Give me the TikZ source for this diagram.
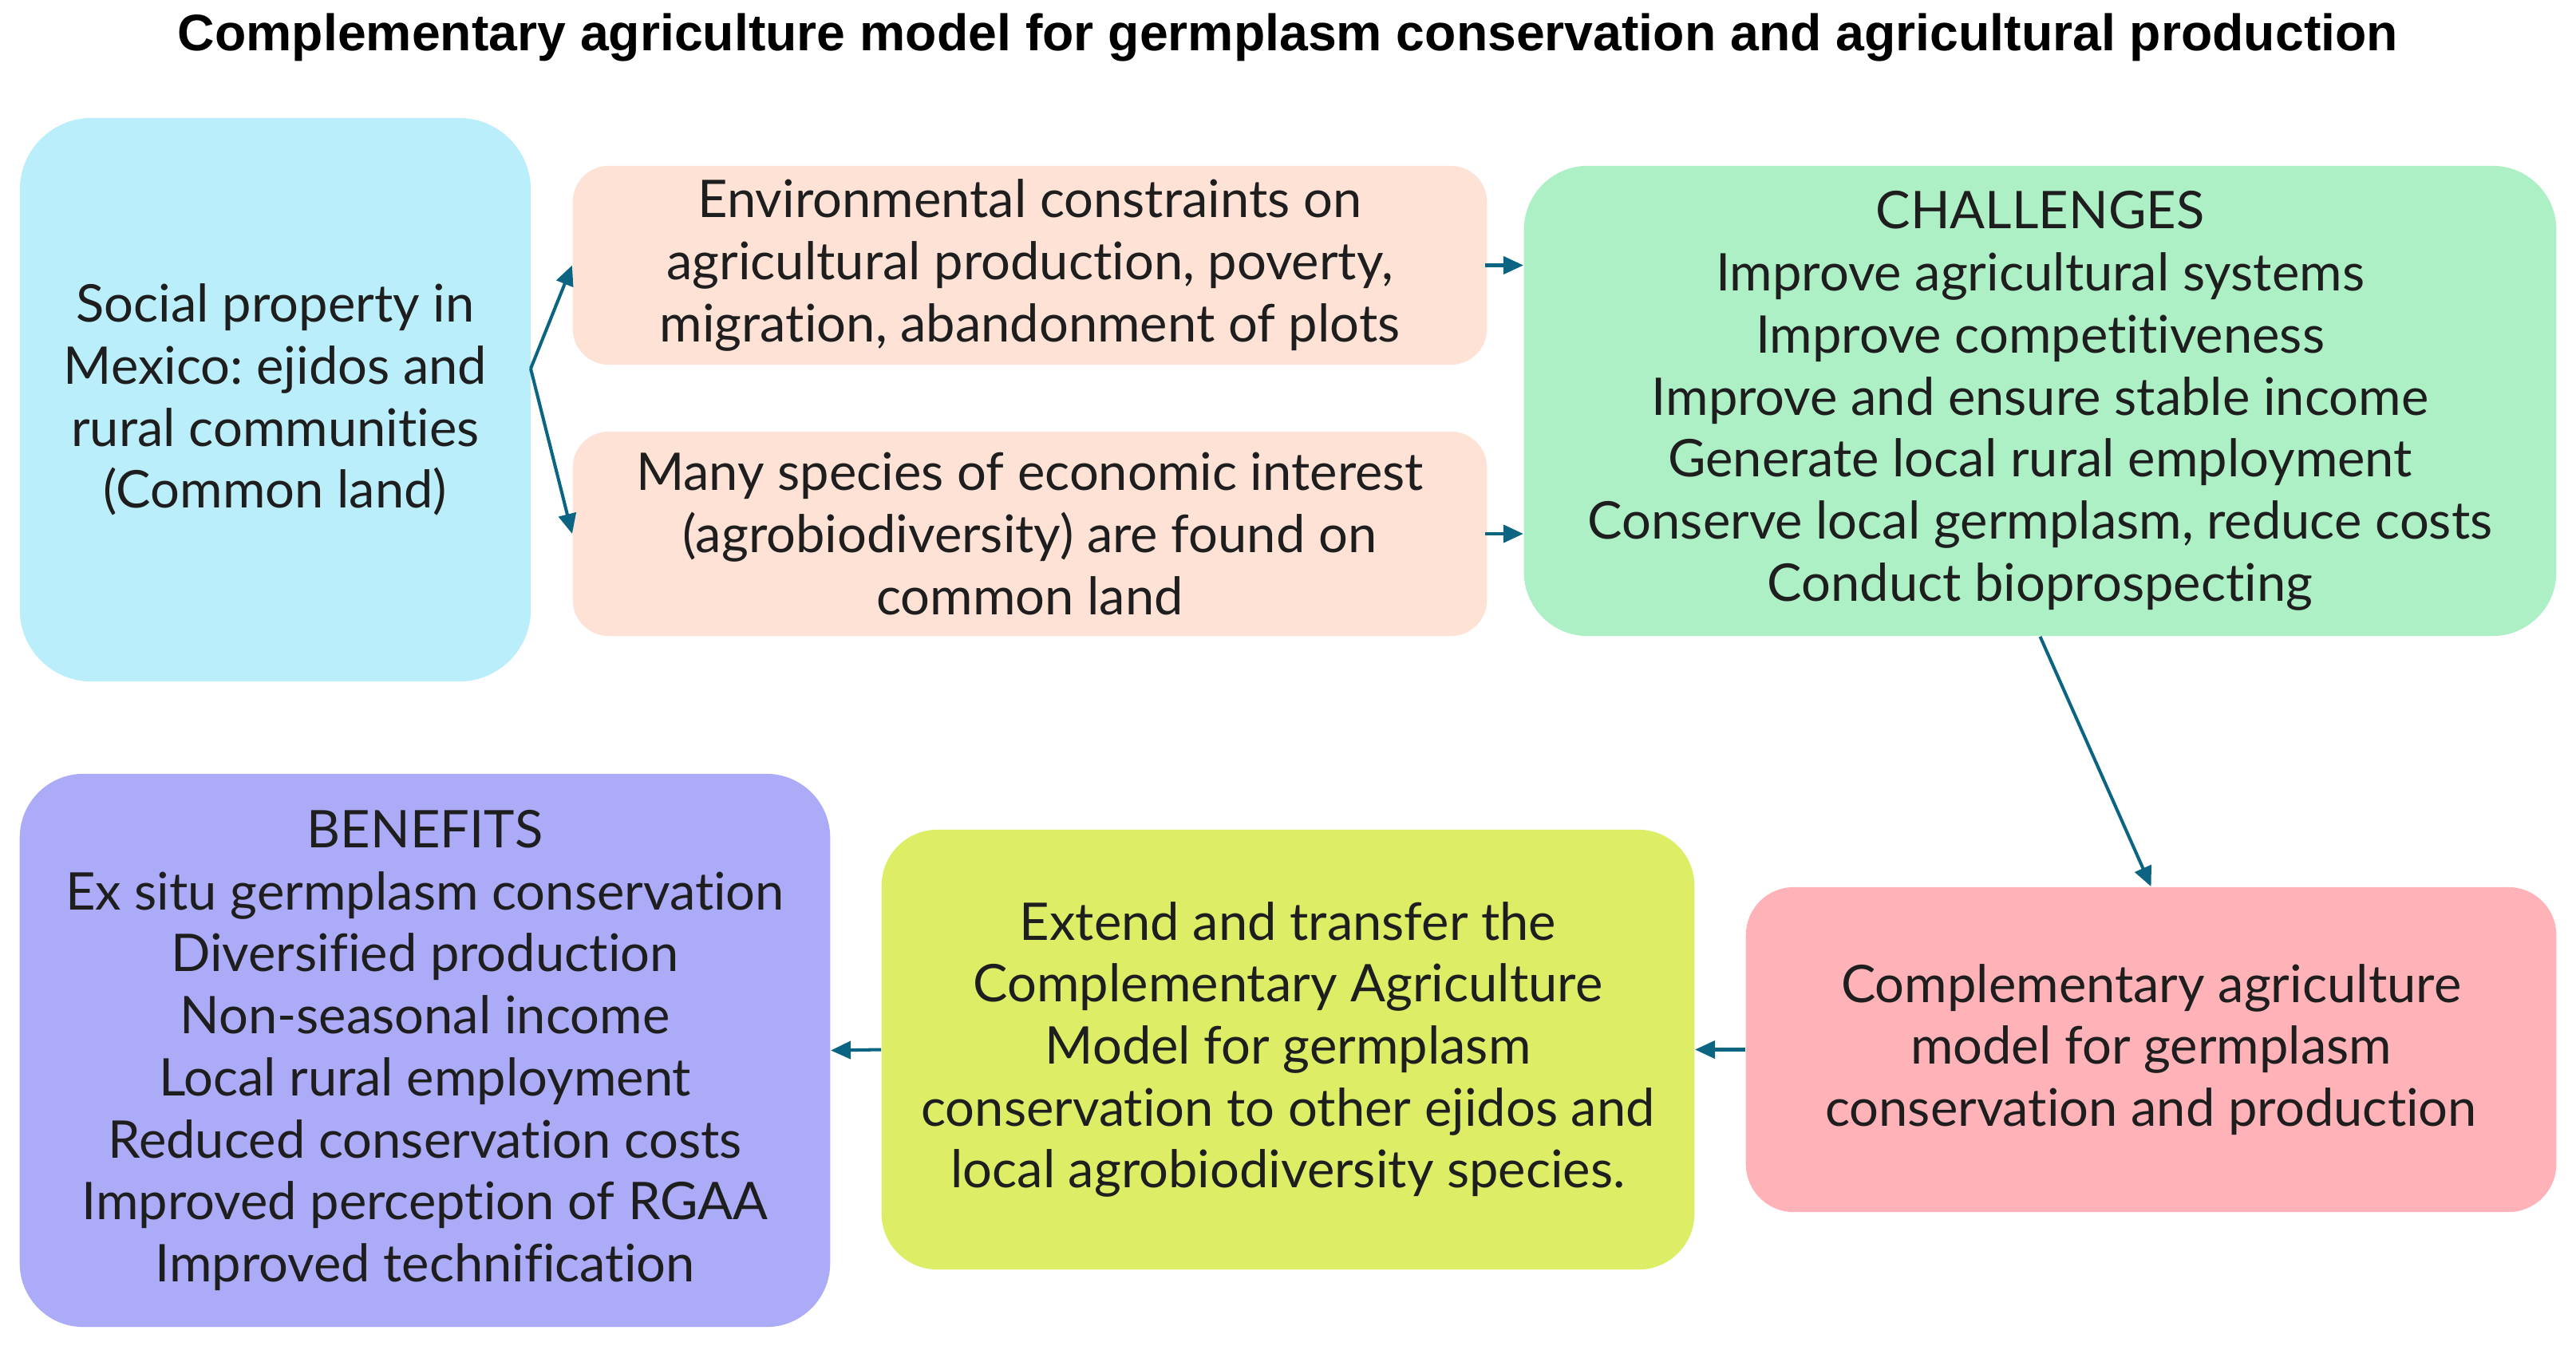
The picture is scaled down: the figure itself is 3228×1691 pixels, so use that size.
\documentclass[tikz,border=0pt]{standalone}
\usepackage{fontspec}
\setmainfont{Lato}[Ligatures=NoCommon]
\newfontfamily\titlefont{Liberation Sans}
\usetikzlibrary{arrows.meta}
\frenchspacing
\definecolor{cblue}{RGB}{187,238,251}
\definecolor{cpeach}{RGB}{255,226,214}
\definecolor{cgreen}{RGB}{174,240,198}
\definecolor{cpurple}{RGB}{171,171,247}
\definecolor{cyellow}{RGB}{221,238,102}
\definecolor{cpink}{RGB}{255,179,184}
\definecolor{carrow}{RGB}{10,100,130}
\definecolor{ctext}{RGB}{30,30,30}
\tikzset{
  box/.style={fill=#1, draw=none, align=center, inner sep=0pt, text=ctext,
    font=\fontsize{18.5}{22.1}\selectfont},
  arr/.style={draw=carrow, line width=1.15pt, -{Triangle[length=0.25cm,width=0.22cm]}}
}
\begin{document}
\frenchspacing
\begin{tikzpicture}[x=0.01cm,y=-0.01cm]
\useasboundingbox (0,0) rectangle (3228,1691);
\node[font=\titlefont\bfseries\fontsize{18.3}{21}\selectfont] (title) at (1614,47)
  {Complementary agriculture model for germplasm conservation and agricultural production};
\node[box=cblue, minimum width=6.40cm, minimum height=7.06cm, rounded corners=0.9cm] (blue) at (345,501)
  {Social property in\\Mexico: ejidos and\\rural communities\\(Common land)};
\node[box=cpeach, minimum width=11.45cm, minimum height=2.49cm, rounded corners=0.45cm] (p1) at (1290.5,332.5)
  {Environmental constraints on\\agricultural production, poverty,\\migration, abandonment of plots};
\node[box=cpeach, minimum width=11.45cm, minimum height=2.56cm, rounded corners=0.45cm] (p2) at (1290.5,669)
  {Many species of economic interest\\(agrobiodiversity) are found on\\common land};
\node[box=cgreen, minimum width=12.93cm, minimum height=5.89cm, rounded corners=0.8cm] (green) at (2556.5,502.5)
  {CHALLENGES\\Improve agricultural systems\\Improve competitiveness\\Improve and ensure stable income\\Generate local rural employment\\Conserve local germplasm, reduce costs\\Conduct bioprospecting};
\node[box=cpurple, minimum width=10.15cm, minimum height=6.93cm, rounded corners=0.8cm] (purple) at (532.5,1316.5)
  {BENEFITS\\Ex situ germplasm conservation\\Diversified production\\Non-seasonal income\\Local rural employment\\Reduced conservation costs\\Improved perception of RGAA\\Improved technification};
\node[box=cyellow, minimum width=10.18cm, minimum height=5.51cm, rounded corners=0.7cm] (yellow) at (1614,1315.5)
  {Extend and transfer the\\Complementary Agriculture\\Model for germplasm\\conservation to other ejidos and\\local agrobiodiversity species.};
\node[box=cpink, minimum width=10.15cm, minimum height=4.07cm, rounded corners=0.6cm] (pink) at (2695.5,1315.5)
  {Complementary agriculture\\model for germplasm\\conservation and production};
\coordinate (fork) at (665,462);
\draw[arr] (fork) -- (p1.west);
\draw[arr] (fork) -- (p2.west);
\draw[arr] ([xshift=-0.03cm]p1.east) -- (p1.east -| green.west);
\draw[arr] ([xshift=-0.03cm]p2.east) -- (p2.east -| green.west);
\draw[arr] (green.south) -- (pink.north);
\draw[arr] (pink.west) -- (yellow.east);
\draw[arr] (yellow.west) -- (purple.east);
\end{tikzpicture}
\end{document}
